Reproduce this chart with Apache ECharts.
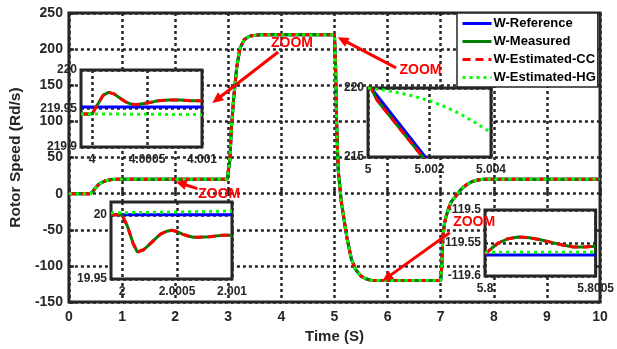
<!DOCTYPE html>
<html>
<head>
<meta charset="utf-8">
<script src="https://cdn.jsdelivr.net/npm/echarts@6/dist/echarts.min.js"></script>
<style>html,body{margin:0;padding:0;background:#fff;}</style>
</head>
<body>
<div id="myChart" style="width:617px;height:349px;"></div>
<script>
var legendNames = ["W-Reference", "W-Measured", "W-Estimated-CC", "W-Estimated-HG"];

// full run, all four traces sit on top of each other here
var mainTime = [0, 0.4, 0.45, 0.5, 0.55, 0.6, 0.7, 0.8, 0.9, 2.98, 3.0, 3.03, 3.06, 3.1, 3.16, 3.22, 3.3, 3.4, 3.6,
  5.0, 5.02, 5.04, 5.07, 5.13, 5.23, 5.32, 5.4, 5.5, 5.6, 5.7,
  7.0, 7.02, 7.04, 7.07, 7.1, 7.15, 7.2, 7.28, 7.35, 7.41, 7.5, 7.6, 7.7, 7.8, 10];
var mainSpeed = [0, 0, 3, 8, 12, 15, 18, 19.5, 20, 20, 22, 47, 90, 130, 175, 201, 213, 218, 220,
  220, 180, 100, 33, -12, -59, -91, -105, -114, -118, -120,
  -120, -100, -60, -42, -32, -20, -11, -4, 3, 8, 13, 17, 19, 20, 20];

// zoom 1 : t = 4 s
var zoom1Time = [3.9999, 4.0, 4.00005, 4.0001, 4.00015, 4.0002, 4.00025, 4.0003, 4.00035, 4.0004, 4.0005, 4.0006, 4.0007, 4.0008, 4.0009, 4.001];
var zoom1Meas = [219.943, 219.943, 219.955, 219.967, 219.971, 219.969, 219.964, 219.959, 219.956, 219.955, 219.957, 219.960, 219.961, 219.961, 219.960, 219.960];
var zoom1RefTime = [3.9999, 4.001];
var zoom1Ref = [219.952, 219.952];
var zoom1HgTime = [3.9999, 4.0005, 4.001];
var zoom1Hg = [219.943, 219.9425, 219.942];

// zoom 2 : t = 5 s
var zoom2Time = [5.0, 5.0001, 5.0003, 5.0005, 5.0012, 5.00185];
var zoom2Meas = [220, 220, 219.1, 218.55, 216.6, 214.8];
var zoom2RefTime = [5.0, 5.0001, 5.0019];
var zoom2Ref = [220, 220, 214.9];
var zoom2HgTime = [5.0, 5.0005, 5.001, 5.0015, 5.002, 5.0025, 5.003, 5.0035, 5.004];
var zoom2Hg = [220, 219.86, 219.66, 219.4, 219.08, 218.65, 218.12, 217.48, 216.76];

// zoom 3 : t = 2 s
var zoom3Time = [1.9999, 2.0, 2.00005, 2.0001, 2.00014, 2.0002, 2.00025, 2.0003, 2.00035, 2.0004, 2.00045, 2.0005, 2.00055, 2.0006, 2.00065, 2.0007, 2.0008, 2.0009, 2.001];
var zoom3Meas = [20, 20, 19.991, 19.978, 19.971, 19.973, 19.977, 19.981, 19.985, 19.987, 19.988, 19.987, 19.985, 19.9835, 19.9825, 19.9825, 19.983, 19.984, 19.984];
var zoom3RefTime = [1.9999, 2.001];
var zoom3Ref = [20, 20];
var zoom3HgTime = [1.9999, 2.0005, 2.001];
var zoom3Hg = [20.0015, 20.0022, 20.003];

// zoom 4 : t = 5.8 s
var zoom4Time = [5.8, 5.80003, 5.80006, 5.8001, 5.80015, 5.8002, 5.80025, 5.8003, 5.80035, 5.8004, 5.80045, 5.8005];
var zoom4Meas = [-119.567, -119.558, -119.55, -119.544, -119.541, -119.542, -119.545, -119.549, -119.553, -119.556, -119.556, -119.555];
var zoom4RefTime = [5.8, 5.8005];
var zoom4Ref = [-119.568, -119.568];
var zoom4HgTime = [5.8, 5.8005];
var zoom4Hg = [-119.564, -119.564];

// inset tick labels
var zoom1XTicks = [4, 4.0005, 4.001];
var zoom1YTicks = [219.9, 219.95, 220];
var zoom2XTicks = [5, 5.002, 5.004];
var zoom2YTicks = [215, 220];
var zoom3XTicks = [2, 2.0005, 2.001];
var zoom3YTicks = [19.95, 20];
var zoom4XTicks = [5.8, 5.8005];
var zoom4YTicks = [-119.6, -119.55, -119.5];

// arrows + ZOOM labels, in main axis units
var arrowTail = [[3.94, 196], [6.16, 174], [2.42, 7], [7.17, -54]];
var arrowHead = [[2.70, 125.5], [5.06, 216.5], [2.01, 16.5], [5.9, -121]];
var zoomTextPos = [[4.2, 208], [6.62, 171], [2.83, 0], [7.63, -40]];

var FONT = "Liberation Sans";
var INK = "#262626";
var gridDots = { color: INK, width: 2.5, type: [3, 3] };

function pairs(xs, ys) {
  var out = [];
  for (var i = 0; i < xs.length; i++) out.push([xs[i], ys[i]]);
  return out;
}

var styles = [
  { color: "#0000ff", type: "solid" },
  { color: "#008000", type: "solid" },
  { color: "#ff0000", type: [8, 5] },
  { color: "#00ff00", type: [3, 4] }
];

function line(k, data, idx, z) {
  return {
    name: legendNames[k],
    type: "line",
    xAxisIndex: idx,
    yAxisIndex: idx,
    data: data,
    symbol: "none",
    z: z,
    clip: true,
    animation: false,
    color: styles[k].color,
    lineStyle: { color: styles[k].color, width: 3, type: styles[k].type }
  };
}

var numFmt = function(v) { return String(parseFloat(Number(v).toFixed(6))); };

var insetBoxes = [
  { left: 81, top: 70, width: 121, height: 77, x: [3.9999, 4.001], y: [219.9, 220], xt: zoom1XTicks, yt: zoom1YTicks },
  { left: 368, top: 88, width: 123, height: 69, x: [5, 5.004], y: [215, 220], xt: zoom2XTicks, yt: zoom2YTicks },
  { left: 111, top: 202, width: 121, height: 77, x: [1.9999, 2.001], y: [19.95, 20.01], xt: zoom3XTicks, yt: zoom3YTicks },
  { left: 485, top: 210, width: 113, height: 66, x: [5.8, 5.8005], y: [-119.6, -119.5], xt: zoom4XTicks, yt: zoom4YTicks }
];

var grids = [{ left: 59, top: 13, width: 541, height: 290, show: true, borderColor: INK, borderWidth: 3, z: 0 }];
var xAxes = [
  {
    type: "value", gridIndex: 0, min: 0, max: 10, interval: 1,
    name: "Time (S)", nameLocation: "middle", nameGap: 22,
    nameTextStyle: { fontSize: 15, fontWeight: "bold", color: INK, fontFamily: FONT },
    axisLine: { show: false },
    axisTick: { inside: true, length: 5, lineStyle: { color: INK, width: 2.5 } },
    axisLabel: { fontSize: 14, fontWeight: "bold", color: INK, margin: 8, fontFamily: FONT },
    splitLine: { show: true, lineStyle: gridDots }
  }
];
var yAxes = [
  {
    type: "value", gridIndex: 0, min: -150, max: 250, interval: 50,
    name: "Rotor Speed (Rd/s)", nameLocation: "middle", nameGap: 36,
    nameTextStyle: { fontSize: 15.5, fontWeight: "bold", color: INK, fontFamily: FONT },
    axisLine: { show: false },
    axisTick: { inside: true, length: 5, lineStyle: { color: INK, width: 2.5 } },
    axisLabel: { fontSize: 14, fontWeight: "bold", color: INK, margin: 6, fontFamily: FONT },
    splitLine: { show: true, lineStyle: gridDots }
  }
];

insetBoxes.forEach(function(b, i) {
  var g = i + 1;
  grids.push({ left: b.left, top: b.top, width: b.width, height: b.height, show: true,
    backgroundColor: "#fff", borderColor: INK, borderWidth: 3, z: 10 });
  xAxes.push({
    type: "value", gridIndex: g, min: b.x[0], max: b.x[1], z: 11,
    axisLine: { show: false },
    axisTick: { show: false, customValues: b.xt },
    axisLabel: { customValues: b.xt, fontSize: 12, fontWeight: "bold", color: INK, margin: 7, fontFamily: FONT, formatter: numFmt },
    splitLine: { show: true, lineStyle: gridDots }
  });
  yAxes.push({
    type: "value", gridIndex: g, min: b.y[0], max: b.y[1], z: 11,
    axisLine: { show: false },
    axisTick: { show: false, customValues: b.yt },
    axisLabel: { customValues: b.yt, fontSize: 12, fontWeight: "bold", color: INK, margin: 4, fontFamily: FONT, formatter: numFmt },
    splitLine: { show: true, lineStyle: gridDots }
  });
});

var series = [];
for (var k = 0; k < 4; k++) series.push(line(k, pairs(mainTime, mainSpeed), 0, 20 + k));

var zooms = [
  [zoom1Time, zoom1Meas, zoom1RefTime, zoom1Ref, zoom1HgTime, zoom1Hg],
  [zoom2Time, zoom2Meas, zoom2RefTime, zoom2Ref, zoom2HgTime, zoom2Hg],
  [zoom3Time, zoom3Meas, zoom3RefTime, zoom3Ref, zoom3HgTime, zoom3Hg],
  [zoom4Time, zoom4Meas, zoom4RefTime, zoom4Ref, zoom4HgTime, zoom4Hg]
];
zooms.forEach(function(zm, i) {
  series.push(line(0, pairs(zm[2], zm[3]), i + 1, 12));
  series.push(line(1, pairs(zm[0], zm[1]), i + 1, 13));
  series.push(line(2, pairs(zm[0], zm[1]), i + 1, 14));
  series.push(line(3, pairs(zm[4], zm[5]), i + 1, 15));
});

var myChart = echarts.init(document.getElementById("myChart"));
myChart.setOption({
  animation: false,
  backgroundColor: "#fff",
  textStyle: { fontFamily: FONT },
  legend: {
    data: legendNames, orient: "vertical", left: 457, top: 13,
    padding: [4, 2, 3, 4], itemGap: 5, itemWidth: 29, itemHeight: 12,
    backgroundColor: "#fff", borderColor: INK, borderWidth: 1.5, borderRadius: 0,
    selectedMode: false, z: 30,
    itemStyle: { opacity: 0 },
    lineStyle: { width: 3 },
    textStyle: { fontSize: 13, fontWeight: "bold", color: "#000", fontFamily: FONT, padding: [0, 0, 0, -3] }
  },
  grid: grids,
  xAxis: xAxes,
  yAxis: yAxes,
  series: series
});

// arrows
var graphics = [];
for (var a = 0; a < arrowTail.length; a++) {
  var p0 = myChart.convertToPixel({ gridIndex: 0 }, arrowTail[a]);
  var p1 = myChart.convertToPixel({ gridIndex: 0 }, arrowHead[a]);
  var dx = p1[0] - p0[0], dy = p1[1] - p0[1];
  var len = Math.sqrt(dx * dx + dy * dy);
  var ux = dx / len, uy = dy / len;
  var hl = 11, hw = 5;
  var bx = p1[0] - ux * hl, by = p1[1] - uy * hl;
  graphics.push({
    type: "line", z: 40,
    shape: { x1: p0[0], y1: p0[1], x2: bx + ux * 2, y2: by + uy * 2 },
    style: { stroke: "#ff0000", lineWidth: 3 }
  });
  graphics.push({
    type: "polygon", z: 40,
    shape: { points: [[p1[0], p1[1]], [bx - uy * hw, by + ux * hw], [bx + uy * hw, by - ux * hw]] },
    style: { fill: "#ff0000" }
  });
  var tp = myChart.convertToPixel({ gridIndex: 0 }, zoomTextPos[a]);
  graphics.push({
    type: "text", z: 40, x: tp[0], y: tp[1],
    style: { text: "ZOOM", fill: "#ff0000", font: "bold 14px '" + FONT + "'", align: "center", verticalAlign: "middle" }
  });
}
myChart.setOption({ graphic: graphics });
</script>
</body>
</html>
